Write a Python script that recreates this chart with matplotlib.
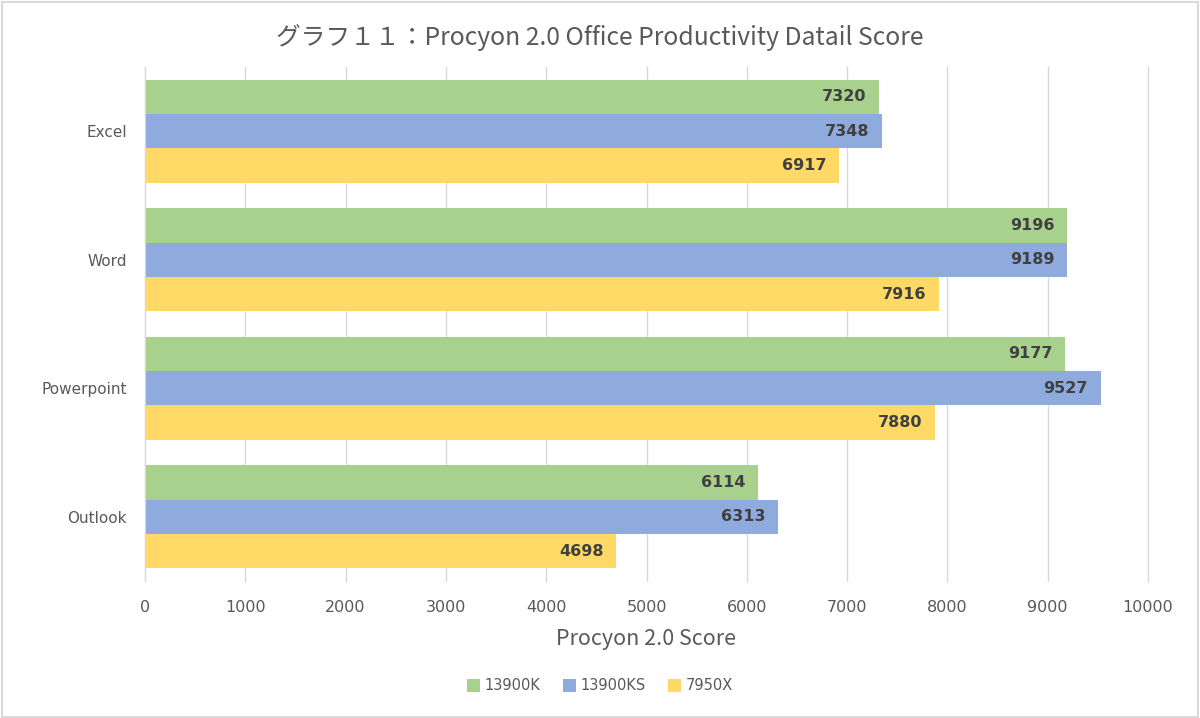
import numpy as np
import matplotlib
matplotlib.use("Agg")
import matplotlib.pyplot as plt
from matplotlib.patches import Rectangle

plt.rcParams['font.family'] = ['DejaVu Sans', 'Noto Sans CJK JP']
jp_font = ['Noto Sans CJK JP', 'DejaVu Sans']

categories = ["Excel", "Word", "Powerpoint", "Outlook"]
series_names = ["13900K", "13900KS", "7950X"]
s_13900k = [7320, 9196, 9177, 6114]
s_13900ks = [7348, 9189, 9527, 6313]
s_7950x = [6917, 7916, 7880, 4698]
colors = ["#A9D18E", "#8FAADC", "#FFD966"]
xticks = list(range(0, 10001, 1000))

fig = plt.figure(figsize=(12, 7.18), dpi=100)
ax = fig.add_axes([145 / 1200, 1 - 581 / 718, 1003 / 1200, 514 / 718])

# 外枠
fig.patches.append(Rectangle((0.002, 0.002), 0.996, 0.995, transform=fig.transFigure,
                             fill=False, edgecolor="#D9D9D9", linewidth=1.5))

y = np.arange(len(categories))
h = 0.268
for i, (vals, name) in enumerate(zip([s_13900k, s_13900ks, s_7950x], series_names)):
    pos = y + (i - 1) * h
    ax.barh(pos, vals, height=h, color=colors[i], label=name, zorder=3)
    for v, p in zip(vals, pos):
        ax.annotate(str(v), (v, p), xytext=(-9, 0), textcoords="offset points",
                    ha="right", va="center", fontsize=11.5, fontweight="bold",
                    color="#404040", zorder=5)

ax.set_ylim(3.5, -0.5)
ax.set_xlim(0, 10000)
ax.set_xticks(xticks)
ax.set_yticks(y)
ax.set_yticklabels(categories)
ax.tick_params(axis="both", length=0, labelcolor="#595959")
ax.tick_params(axis="x", pad=14, labelsize=11.5)
ax.tick_params(axis="y", pad=13, labelsize=11)
ax.grid(axis="x", color="#D9D9D9", linewidth=1, zorder=0)
for gl in ax.get_xgridlines():
    gl.set_clip_on(False)
for s in ["top", "right", "bottom"]:
    ax.spines[s].set_visible(False)
ax.spines["left"].set_color("#D9D9D9")
ax.spines["left"].set_zorder(4)

ax.set_xlabel("Procyon 2.0 Score", fontsize=15.5, color="#595959", labelpad=9,
              family=jp_font)
fig.suptitle("グラフ１１：Procyon 2.0 Office Productivity Datail Score",
             fontsize=17.8, color="#595959", y=1 - 38 / 718, va="center", family=jp_font)

leg = fig.legend(loc="center", bbox_to_anchor=(0.5, 1 - 686 / 718), ncol=3,
                 frameon=False, fontsize=10.5, handlelength=0.9, handleheight=0.9,
                 handletextpad=0.35, columnspacing=1.5)
for t in leg.get_texts():
    t.set_color("#595959")

fig.savefig("out.png", dpi=100)
